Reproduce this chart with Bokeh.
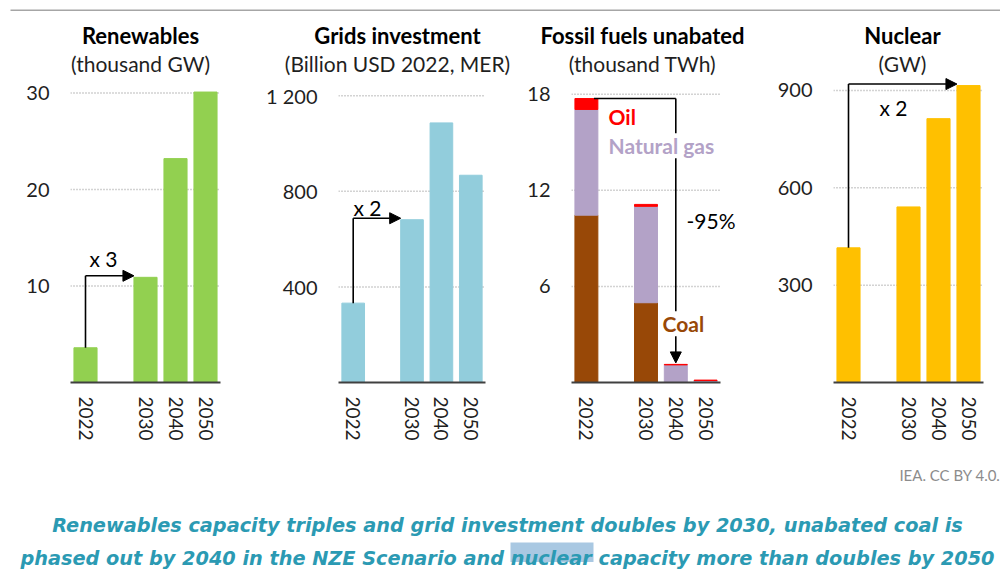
from bokeh.plotting import figure
from bokeh.models import Range1d, FixedTicker, Label, Arrow, NormalHead
from bokeh.layouts import column, row
from bokeh.core.properties import value
from bokeh.embed import file_html
from bokeh.resources import INLINE

# ---------------- data ----------------
years = ["2022", "2030", "2040", "2050"]
slots = ["2022", "", "2030", "2040", "2050"]   # blank slot = gap after 2022

renewables = [3.6, 10.9, 23.2, 30.1]           # thousand GW
grids = [332, 681, 1086, 867]                  # billion USD 2022
coal = [10.45, 4.98, 0.0, 0.0]                 # thousand TWh
natural_gas = [6.6, 6.02, 1.1, 0.12]
oil = [0.68, 0.12, 0.03, 0.03]
nuclear = [415, 541, 813, 915]                 # GW

renew_ticks = [10, 20, 30]
grids_ticks = [400, 800, 1200]
grids_tick_labels = {1200: "1 200"}
fossil_ticks = [6, 12, 18]
nuclear_ticks = [300, 600, 900]

titles = [("Renewables", "(thousand GW)"),
          ("Grids investment", "(Billion USD 2022, MER)"),
          ("Fossil fuels unabated", "(thousand TWh)"),
          ("Nuclear", "(GW)")]
caption1 = "Renewables capacity triples and grid investment doubles by 2030, unabated coal is"
caption2 = "phased out by 2040 in the NZE Scenario and nuclear capacity more than doubles by 2050"
source_note = "IEA. CC BY 4.0."

# ---------------- styling / layout (page pixels) ----------------
FONT = "Lato"
TXT = "#1f1f1f"
W = 1000
RULE = 11         # page y where the header rule area ends
TOP = 77          # page y where panels start
BOTTOM = 455      # page y where panels end
H = 569
PH = BOTTOM - TOP
BW = 0.77
xpos = [slots.index(y) for y in years]


def base_fig(w, h, xr, yr):
    f = figure(width=w, height=h, x_range=xr, y_range=yr, output_backend="svg",
               toolbar_location=None, title=None, min_border=0)
    f.axis.visible = False
    f.grid.visible = False
    f.outline_line_color = None
    return f


def panel(px0, pw, fl, fw, base, ppu, ticks, overrides=None):
    slot_w = fw / 5.0

    def dx(x):
        return (x - fl) / slot_w - 0.5

    def dy(y):
        return (base - y) / ppu

    p = figure(width=pw, height=PH, x_range=Range1d(-0.5, dx(px0 + pw)),
               y_range=Range1d(0, (base - TOP) / ppu),
               output_backend="svg", toolbar_location=None, title=None,
               min_border_left=fl - px0, min_border_right=0,
               min_border_top=0, min_border_bottom=PH - (base - TOP))
    p.outline_line_color = None
    p.grid.visible = False
    # dotted gridlines across the category span only
    p.segment(x0=[-0.5] * len(ticks), x1=[4.5] * len(ticks), y0=ticks, y1=ticks,
              line_color="#a6a6a6", line_dash="1 2", line_width=1.5)
    xa = p.xaxis[0]
    xa.ticker = FixedTicker(ticks=xpos)
    xa.bounds = (-0.5, 4.5)
    xa.major_label_overrides = {x: y for x, y in zip(xpos, years)}
    xa.major_label_orientation = "vertical"
    xa.axis_line_color = "#404040"
    xa.axis_line_width = 2
    xa.major_tick_line_color = None
    xa.minor_tick_line_color = None
    xa.major_label_standoff = 8
    xa.major_label_text_font = FONT
    xa.major_label_text_font_size = "19px"
    xa.major_label_text_color = TXT
    ya = p.yaxis[0]
    ya.ticker = FixedTicker(ticks=ticks)
    if overrides:
        ya.major_label_overrides = overrides
    ya.axis_line_color = None
    ya.major_tick_line_color = None
    ya.minor_tick_line_color = None
    ya.major_tick_out = 0
    ya.major_label_standoff = 21
    ya.major_label_text_font = FONT
    ya.major_label_text_font_size = "20px"
    ya.major_label_text_color = TXT
    return p, dx, dy, ppu


def note(p, x, y, text, color="#000000", style="normal", align="center", bg=None):
    p.add_layout(Label(x=x, y=y, text=text, text_font=FONT, text_font_style=style,
                       text_font_size="21px", text_align=align, text_baseline="middle",
                       text_color=color, background_fill_color=bg))


def head_arrow(x0, y0, x1, y1):
    return Arrow(x_start=x0, y_start=y0, x_end=x1, y_end=y1, line_color="black", line_width=1.6,
                 end=NormalHead(size=11, fill_color="black", line_color="black"))


def step_arrow(p, x0, y0, x1, y1, ppu):
    off = 1.5 / ppu
    p.line(x=[x0, x0], y=[y0, y1 + off], line_color="black", line_width=1.6)
    p.add_layout(head_arrow(x0, y1 + off, x1, y1 + off))


# Panel 1: renewables
p1, dx1, dy1, ppu1 = panel(0, 250, 70, 150, 382, 9.65, renew_ticks)
p1.vbar(x=xpos, top=renewables, width=BW, color="#92d050")
step_arrow(p1, xpos[0], renewables[0], xpos[1] - BW / 2, renewables[1], ppu1)
note(p1, dx1(103), dy1(258), "x 3")

# Panel 2: grids
p2, dx2, dy2, ppu2 = panel(250, 260, 338, 147, 388, 0.24375, grids_ticks, grids_tick_labels)
p2.vbar(x=xpos, top=grids, width=BW, color="#92cddc")
step_arrow(p2, xpos[0], grids[0], xpos[1] - BW / 2, grids[1], ppu2)
note(p2, dx2(367), dy2(210), "x 2")

# Panel 3: fossil fuels
p3, dx3, dy3, ppu3 = panel(510, 240, 571, 149, 388, 16.33, fossil_ticks)
src = dict(x=xpos, coal=coal, gas=natural_gas, oil=oil)
p3.vbar_stack(["coal", "gas", "oil"], x="x", width=BW, source=src,
              color=["#984807", "#b3a2c7", "#ff0000"])
tot = [c + g + o for c, g, o in zip(coal, natural_gas, oil)]
p3.line(x=[xpos[0] + BW / 2 - 0.13, xpos[2]], y=[tot[0], tot[0]], line_color="black", line_width=1.6)
p3.add_layout(head_arrow(xpos[2], tot[0], xpos[2], tot[2] + 1.5 / ppu3))
note(p3, dx3(608), dy3(117), "Oil", color="#ff0000", style="bold", align="left")
note(p3, dx3(608), dy3(146.7), "Natural gas", color="#b3a2c7", style="bold", align="left", bg="white")
note(p3, dx3(662), dy3(328), "Coal", color="#984807", style="bold", align="left", bg="white")
note(p3, dx3(686), dy3(223), "-95%", align="left")

# Panel 4: nuclear
p4, dx4, dy4, ppu4 = panel(750, 250, 833, 150, 384, 0.326667, nuclear_ticks)
p4.vbar(x=xpos, top=nuclear, width=BW, color="#ffc000")
step_arrow(p4, xpos[0], nuclear[0], xpos[3] - BW / 2, nuclear[3], ppu4)
note(p4, dx4(893), dy4(107), "x 2")

# header rule (page y 0..11)
head = base_fig(W, RULE, Range1d(0, W), Range1d(RULE, 0))
head.quad(left=[10], right=[W], top=[8], bottom=[11], fill_color="#a6a6a6", line_color=None)

# panel titles strip (page y 11..77)
tstrip = base_fig(W, TOP - RULE, Range1d(0, W), Range1d(TOP, RULE))
centers = [140, 397, 642, 902]
tstrip.text(x=centers, y=[35] * 4, text=[t[0] for t in titles], text_align="center",
            text_baseline="middle", text_font=value(FONT), text_font_style="bold",
            text_font_size="22px", text_color="#000000")
tstrip.text(x=centers, y=[63] * 4, text=[t[1] for t in titles], text_align="center",
            text_baseline="middle", text_font=value(FONT),
            text_font_size="21px", text_color=TXT)

# caption (page y 455..569)
cap = base_fig(W, H - BOTTOM, Range1d(0, W), Range1d(H, BOTTOM))
cap.text(x=[1000], y=[474], text=[source_note], text_align="right", text_baseline="middle",
         text_color="#8c8c8c", text_font=value(FONT), text_font_size="15px")
cap.quad(left=[510], right=[593], top=[542], bottom=[561.5], fill_color="#a9c8e2",
         line_color=None)
cap.text(x=[507, 507], y=[525, 558], text=[caption1, caption2], text_align="center",
         text_baseline="alphabetic", text_color="#2b9ab3", text_font=value("DejaVu Sans"),
         text_font_style="bold italic", text_font_size="19.3px")

layout = column(head, tstrip, row(p1, p2, p3, p4), cap)
open("out.html", "w").write(file_html(layout, INLINE))
